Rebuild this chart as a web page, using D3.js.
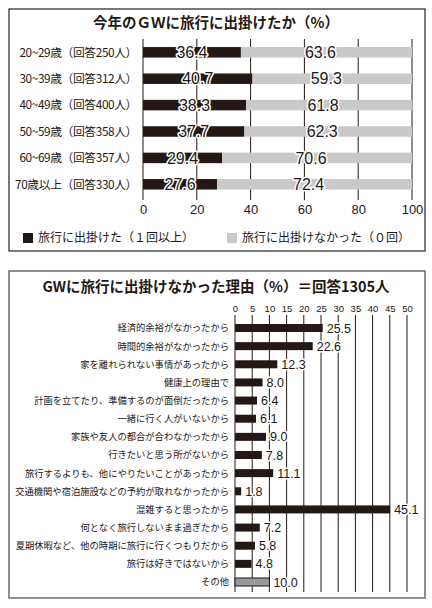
<!DOCTYPE html>
<html>
<head>
<meta charset="utf-8">
<script src="https://cdn.jsdelivr.net/npm/d3@7"></script>
<style>
  body { margin: 0; background: #fff; }
  text { font-family: "Noto Sans CJK JP", "Noto Sans", sans-serif; fill: #231815; }
  .num { font-family: "Liberation Sans", "DejaVu Sans", sans-serif; }
  .halo { paint-order: stroke; stroke: #fff; stroke-width: 3px; stroke-linejoin: round; }
  .axis path, .axis line { display: none; }
</style>
</head>
<body>
<div id="chart"></div>
<script>
// Chart 1: did you travel during GW (%)
const ageGroups = ["20~29歳（回答250人）", "30~39歳（回答312人）", "40~49歳（回答400人）",
  "50~59歳（回答358人）", "60~69歳（回答357人）", "70歳以上（回答330人）"];
const wentValues = [36.4, 40.7, 38.3, 37.7, 29.4, 27.6];
const notWentValues = [63.6, 59.3, 61.8, 62.3, 70.6, 72.4];
const topTicks = [0, 20, 40, 60, 80, 100];
const legendLabels = ["旅行に出掛けた（１回以上）", "旅行に出掛けなかった（０回）"];

// Chart 2: reasons for not travelling (%)
const reasons = [
  "経済的余裕がなかったから",
  "時間的余裕がなかったから",
  "家を離れられない事情があったから",
  "健康上の理由で",
  "計画を立てたり、準備するのが面倒だったから",
  "一緒に行く人がいないから",
  "家族や友人の都合が合わなかったから",
  "行きたいと思う所がないから",
  "旅行するよりも、他にやりたいことがあったから",
  "交通機関や宿泊施設などの予約が取れなかったから",
  "混雑すると思ったから",
  "何となく旅行しないまま過ぎたから",
  "夏期休暇など、他の時期に旅行に行くつもりだから",
  "旅行は好きではないから",
  "その他"
];
const reasonValues = [25.5, 22.6, 12.3, 8.0, 6.4, 6.1, 9.0, 7.8, 11.1, 1.8, 45.1, 7.2, 5.8, 4.8, 10.0];
const reasonTicks = d3.range(0, 51, 5);

const black = "#231815", gray = "#c9c9c9", otherGray = "#9a9a9a";

const svg = d3.select("#chart").append("svg")
  .attr("width", 432)
  .attr("height", 608);

// ---------- top panel ----------
const topPanel = svg.append("g");

topPanel.append("rect")
  .attr("x", 9).attr("y", 9).attr("width", 416).attr("height", 242)
  .attr("fill", "none").attr("stroke", "#333").attr("stroke-width", 1.3);

topPanel.append("text")
  .attr("x", 216).attr("y", 28)
  .attr("text-anchor", "middle")
  .style("font-size", "14.5px").style("font-weight", "bold")
  .text("今年のＧＷに旅行に出掛けたか（%）");

const x1 = d3.scaleLinear().domain([0, 100]).range([143, 412]);
const y1 = d3.scalePoint().domain(ageGroups).range([52.3, 184.3]);
const barH1 = 10.5;

// grid lines (under bars)
topPanel.append("g").selectAll("line")
  .data(topTicks)
  .join("line")
  .attr("x1", d => x1(d)).attr("x2", d => x1(d))
  .attr("y1", 39).attr("y2", 200)
  .attr("stroke", black).attr("stroke-width", 1);

const rows1 = ageGroups.map((g, i) => ({ g, went: wentValues[i], not: notWentValues[i] }));

topPanel.append("g").selectAll("rect")
  .data(rows1)
  .join("rect")
  .attr("x", x1(0))
  .attr("y", d => y1(d.g) - barH1 / 2)
  .attr("width", d => x1(d.went) - x1(0))
  .attr("height", barH1)
  .attr("fill", black);

topPanel.append("g").selectAll("rect")
  .data(rows1)
  .join("rect")
  .attr("x", d => x1(d.went))
  .attr("y", d => y1(d.g) - barH1 / 2)
  .attr("width", d => x1(d.went + d.not) - x1(d.went))
  .attr("height", barH1)
  .attr("fill", gray);

// value labels
topPanel.append("g").selectAll("text")
  .data(rows1.flatMap(d => [
    { g: d.g, v: d.went, cx: x1(d.went / 2) },
    { g: d.g, v: d.not, cx: x1(d.went + d.not / 2) - 6 }
  ]))
  .join("text")
  .attr("class", "num halo")
  .attr("x", d => d.cx)
  .attr("y", d => y1(d.g))
  .attr("dy", "0.36em")
  .attr("text-anchor", "middle")
  .style("font-size", "16px")
  .text(d => d.v.toFixed(1));

// category labels
topPanel.append("g").attr("class", "axis")
  .attr("transform", `translate(${x1(0) - 6},0)`)
  .call(d3.axisLeft(y1).tickSize(0).tickPadding(0))
  .call(g => g.selectAll("text")
    .style("font-size", "11.8px")
    .style("letter-spacing", "-0.4px")
    .attr("fill", black));

// x ticks
topPanel.append("g").attr("class", "axis")
  .attr("transform", "translate(0,205)")
  .call(d3.axisBottom(x1).tickValues(topTicks).tickSize(0).tickPadding(0))
  .call(g => g.selectAll("text").attr("class", "num").style("font-size", "13px").attr("fill", black));

// legend
const legend = topPanel.append("g").attr("transform", "translate(0,238)");
const legendItems = [
  { label: legendLabels[0], color: black, x: 23 },
  { label: legendLabels[1], color: gray, x: 227 }
];
legend.selectAll("rect")
  .data(legendItems)
  .join("rect")
  .attr("x", d => d.x).attr("y", -5)
  .attr("width", 10).attr("height", 10)
  .attr("fill", d => d.color);
legend.selectAll("text")
  .data(legendItems)
  .join("text")
  .attr("x", d => d.x + 15)
  .attr("dy", "0.36em")
  .style("font-size", "12px")
  .text(d => d.label);

// ---------- bottom panel ----------
const botPanel = svg.append("g");

botPanel.append("rect")
  .attr("x", 9).attr("y", 271).attr("width", 416).attr("height", 327)
  .attr("fill", "none").attr("stroke", "#555").attr("stroke-width", 1.3);

botPanel.append("text")
  .attr("x", 216).attr("y", 292)
  .attr("text-anchor", "middle")
  .style("font-size", "14.5px").style("font-weight", "bold")
  .text("GWに旅行に出掛けなかった理由（%）＝回答1305人");

const x2 = d3.scaleLinear().domain([0, 50]).range([235, 407]);
const y2 = d3.scalePoint().domain(reasons).range([328, 582]);
const barH2 = 8;

botPanel.append("g").selectAll("line")
  .data(reasonTicks)
  .join("line")
  .attr("x1", d => x2(d)).attr("x2", d => x2(d))
  .attr("y1", 315).attr("y2", 592)
  .attr("stroke", black).attr("stroke-width", 1);

botPanel.append("g").attr("class", "axis")
  .attr("transform", "translate(0,312)")
  .call(d3.axisTop(x2).tickValues(reasonTicks).tickSize(0).tickPadding(0))
  .call(g => g.selectAll("text").attr("class", "num").style("font-size", "9.5px").attr("fill", black));

const rows2 = reasons.map((r, i) => ({ r, v: reasonValues[i], other: r === "その他" }));

botPanel.append("g").selectAll("rect")
  .data(rows2)
  .join("rect")
  .attr("x", x2(0))
  .attr("y", d => y2(d.r) - barH2 / 2)
  .attr("width", d => x2(d.v) - x2(0))
  .attr("height", barH2)
  .attr("fill", d => d.other ? otherGray : black)
  .attr("stroke", d => d.other ? black : "none")
  .attr("stroke-width", 1);

botPanel.append("g").selectAll("text")
  .data(rows2)
  .join("text")
  .attr("class", "num halo")
  .attr("x", d => x2(d.v) + 4)
  .attr("y", d => y2(d.r))
  .attr("dy", "0.36em")
  .style("font-size", "12.5px")
  .text(d => d.v.toFixed(1));

botPanel.append("g").attr("class", "axis")
  .attr("transform", `translate(${x2(0) - 6},0)`)
  .call(d3.axisLeft(y2).tickSize(0).tickPadding(0))
  .call(g => g.selectAll("text").style("font-size", "9.3px").attr("fill", black));
</script>
</body>
</html>
